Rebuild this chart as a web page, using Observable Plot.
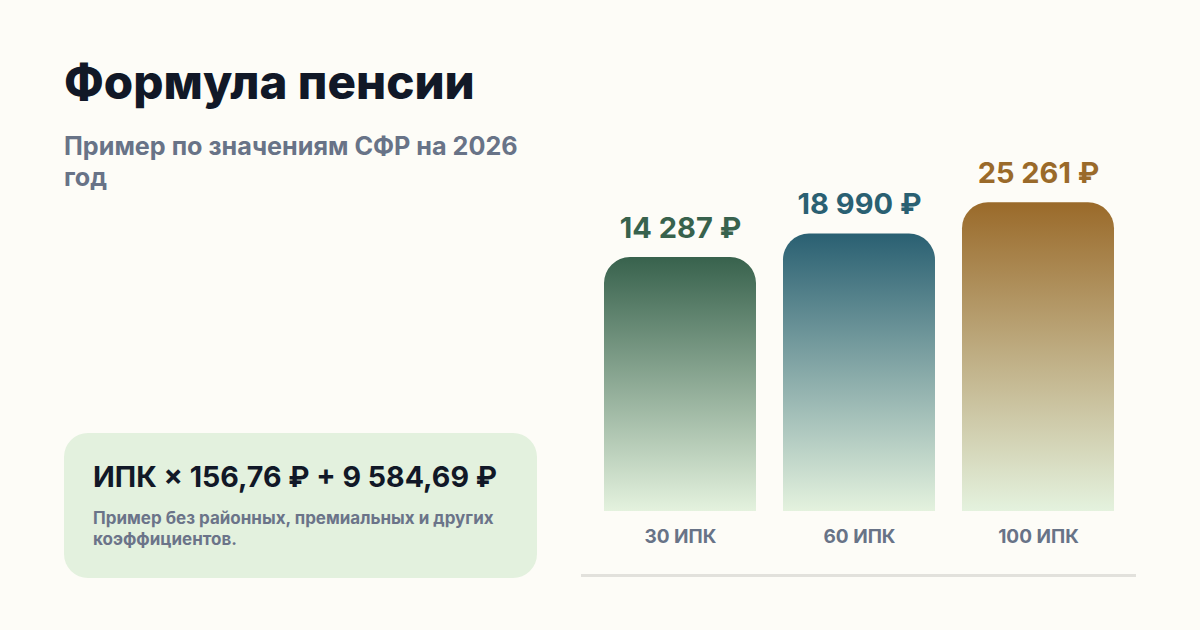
<!DOCTYPE html>
<html lang="ru">
<head>
<meta charset="utf-8">
<script src="https://cdn.jsdelivr.net/npm/d3@7"></script>
<script src="https://cdn.jsdelivr.net/npm/@observablehq/plot@0.6"></script>
<style>
  html, body { margin: 0; padding: 0; }
  body { width: 1200px; height: 630px; background: #fdfcf7; font-family: Inter, "Noto Sans", sans-serif; position: relative; overflow: hidden; }
  #title { position: absolute; left: 64px; top: 52px; margin: 0; font-size: 47.5px; font-weight: 800; color: #111827; line-height: 60px; }
  #subtitle { position: absolute; left: 64px; top: 131px; width: 480px; margin: 0; font-size: 25.2px; font-weight: 700; color: #687387; line-height: 31px; }
  #box { position: absolute; left: 64px; top: 433px; width: 473px; height: 145px; border-radius: 24px; background: #e3f1de; }
  #formula { position: absolute; left: 29px; top: 24px; font-size: 28.6px; font-weight: 700; color: #111827; white-space: nowrap; line-height: 40px; }
  #note { position: absolute; left: 29px; top: 75px; width: 430px; font-size: 17px; font-weight: 700; color: #6b7489; line-height: 21px; }
  #chart { position: absolute; left: 581px; top: 140px; }
  #baseline { position: absolute; left: 581px; top: 574px; width: 555px; height: 3px; background: #e2e1dc; }
</style>
</head>
<body>
<h1 id="title">Формула пенсии</h1>
<p id="subtitle">Пример по значениям СФР на 2026 год</p>
<div id="box">
  <div id="formula">ИПК × 156,76 ₽ + 9 584,69 ₽</div>
  <div id="note">Пример без районных, премиальных и других коэффициентов.</div>
</div>
<div id="chart"></div>
<div id="baseline"></div>
<script>
// Data
const categories = ["30 ИПК", "60 ИПК", "100 ИПК"];
const pensions = [14287, 18990, 25261];
const valueLabels = ["14 287 ₽", "18 990 ₽", "25 261 ₽"];
const topColors = ["#38624d", "#2a6072", "#9a6a2a"];
const bottomColor = "#e4f2de";
const yDomain = [-36586, 29734];

const data = categories.map((c, i) => ({
  category: c,
  value: pensions[i],
  label: valueLabels[i],
  color: topColors[i],
  fillRef: `url(#grad${i})`
}));

const chart = Plot.plot({
  width: 555,
  height: 450,
  marginLeft: 22,
  marginRight: 22,
  marginTop: 40,
  marginBottom: 79,
  style: { background: "transparent", fontFamily: "Inter, 'Noto Sans', sans-serif", overflow: "visible" },
  x: { domain: categories, paddingInner: 0.153, paddingOuter: 0, axis: null },
  y: { domain: yDomain, axis: null },
  color: { type: "identity" },
  marks: [
    Plot.rectY(data, {
      x: "category",
      y1: yDomain[0],
      y2: "value",
      fill: "fillRef",
      ry2: 26
    }),
    Plot.text(data, {
      x: "category",
      y: "value",
      text: "label",
      fill: "color",
      dy: -20,
      lineAnchor: "bottom",
      fontSize: 29,
      fontWeight: 700
    }),
    Plot.axisX({
      domain: categories,
      tickSize: 0,
      tickPadding: 18,
      fontSize: 19,
      fontWeight: 700,
      color: "#687387",
      label: null
    })
  ]
});

// gradients
const svg = d3.select(chart);
const defs = svg.insert("defs", ":first-child");
topColors.forEach((c, i) => {
  const g = defs.append("linearGradient")
    .attr("id", `grad${i}`)
    .attr("x1", 0).attr("y1", 0).attr("x2", 0).attr("y2", 1);
  g.append("stop").attr("offset", "0%").attr("stop-color", c);
  g.append("stop").attr("offset", "100%").attr("stop-color", bottomColor);
});

document.getElementById("chart").appendChild(chart);
</script>
</body>
</html>
